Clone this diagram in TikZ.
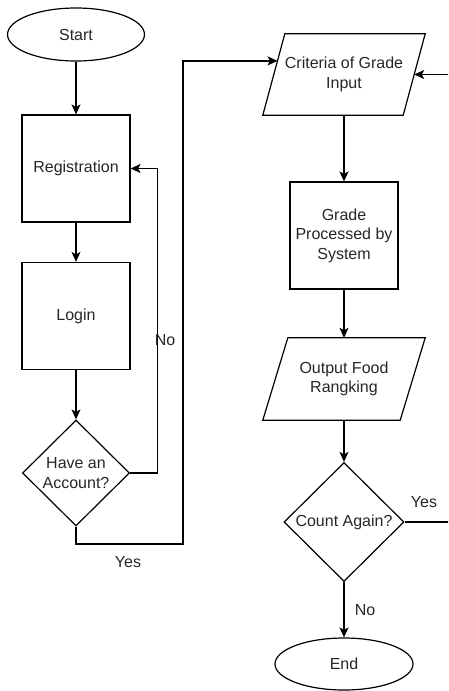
\documentclass[tikz,border=0pt]{standalone}
\usepackage{fontspec}
\setmainfont{Liberation Sans}
\usetikzlibrary{shapes.geometric,arrows.meta,calc}
\definecolor{txt}{HTML}{262626}
\tikzset{
  every node/.style={font=\fontsize{16}{19.5}\selectfont, text=txt},
  base/.style={draw=black, line width=1.2pt, inner sep=0pt, align=center},
  term/.style={base, ellipse, minimum width=137pt, minimum height=53pt},
  proc/.style={base, rectangle, minimum width=108pt, minimum height=107pt},
  io/.style={inner sep=0pt, align=center, rectangle, minimum width=162pt, minimum height=81pt},
  iofr/.style={draw=black, line width=1.2pt, line join=miter},
  dec/.style={base, diamond, aspect=1},
  conn/.style={draw=black, line width=1.2pt, -{Stealth[length=10pt,width=9pt,inset=2.5pt]}},
  lbl/.style={inner sep=0pt}
}
\begin{document}
\begin{tikzpicture}[x=1pt,y=-1pt]
\useasboundingbox (0,0) rectangle (448,691);
\clip (0,0) rectangle (448,691);
\node[term] (start) at (76,34.5) {Start};
\node[proc] (reg) at (76,168.5) {Registration};
\node[proc] (login) at (76,316) {Login};
\node[dec, minimum width=107pt, minimum height=106pt] (acc) at (76,473) {Have an\\Account?};
\node[io] (crit) at (344,74.5) {Criteria of Grade\\Input};
\node[proc] (grade) at (344,235.5) {Grade\\Processed by\\System};
\node[io, minimum height=82pt] (out) at (344,379) {Output Food\\Rangking};
\node[dec, minimum width=120pt, minimum height=119pt] (cnt) at (344,522) {Count Again?};
\node[term, minimum width=138pt, minimum height=52pt] (end) at (344,664) {End};

% parallelogram outlines
\draw[iofr] (crit.south west) -- ($(crit.south east)+(-22,0)$) -- (crit.north east) -- ($(crit.north west)+(22,0)$) -- cycle;
\draw[iofr] (out.south west) -- ($(out.south east)+(-25,0)$) -- (out.north east) -- ($(out.north west)+(25,0)$) -- cycle;

\coordinate (critin) at ($($(crit.north west)+(22,0)$)!0.333!(crit.south west)$);
\coordinate (critr) at ($(crit.north east)!0.5!($(crit.south east)+(-22,0)$)$);
\coordinate (yesturn) at (183,544);
\coordinate (backx) at (453,522);

\draw[conn] (start) -- (reg);
\draw[conn] (reg) -- (login);
\draw[conn] (login) -- (acc);
\draw[conn] (acc.east) -- ++(27,0) |- (reg.east);
\draw[conn] (acc.south) |- (yesturn) |- (critin);
\draw[conn] (crit) -- (grade);
\draw[conn] (grade) -- (out);
\draw[conn] (out) -- (cnt);
\draw[conn] (cnt.south) -- (end.north);
\draw[conn] (cnt.east) -- (backx) |- (critr);

\node[lbl] (lno) at (165,340) {No};
\node[lbl] (lyes) at (128,562) {Yes};
\node[lbl] (ryes) at (424,502) {Yes};
\node[lbl] (rno) at (365,610) {No};
\end{tikzpicture}
\end{document}
